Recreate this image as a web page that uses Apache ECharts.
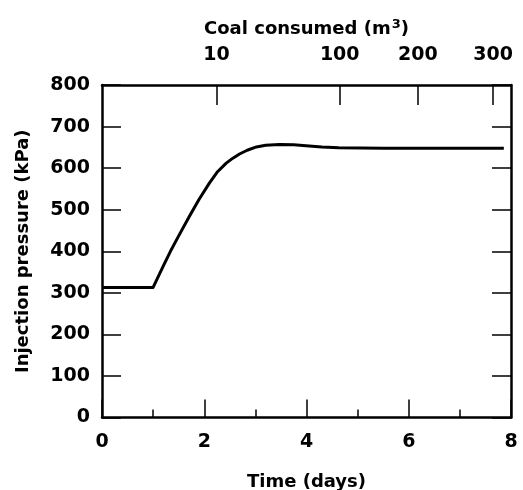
<!DOCTYPE html>
<html>
<head>
<meta charset="utf-8">
<script src="https://cdn.jsdelivr.net/npm/echarts@6/dist/echarts.min.js"></script>
<style>
html,body{margin:0;padding:0;background:#fff;}
#chart{width:523px;height:490px;}
</style>
</head>
<body>
<div id="chart"></div>
<script>
// Data
const timeDays = [0, 1.0, 1.2, 1.36, 1.5, 1.71, 1.9, 2.10, 2.25, 2.43, 2.56, 2.69, 2.84, 3.02, 3.2, 3.47, 3.75, 3.99, 4.3, 4.63, 5.5, 6.5, 7.86];
const pressureKPa = [313, 313, 365, 405, 437, 484, 525, 564, 590, 612, 624, 634, 643, 651, 655, 657, 656, 654, 651, 649, 648, 648, 648];
// Top axis (coal consumed) ticks, placed at time positions
const coalTickTimes = [2.24, 4.65, 6.18, 7.65];
const coalTickLabels = ['10', '100', '200', '300'];
const yTicks = [0, 100, 200, 300, 400, 500, 600, 700, 800];

const FONT = 'DejaVu Sans';
const chart = echarts.init(document.getElementById('chart'), null, {renderer: 'canvas'});

const lineStyleAxis = {color: '#000', width: 2.5};
const tickStyle = {color: '#000', width: 1.5};
const labelStyle = {fontFamily: FONT, fontWeight: 'bold', fontSize: 19, color: '#000'};
const nameStyle = {fontFamily: FONT, fontWeight: 'bold', fontSize: 18, color: '#000'};

chart.setOption({
  animation: false,
  backgroundColor: '#fff',
  grid: {left: 102, right: 12, top: 85, bottom: 72.5, containLabel: false, outerBoundsMode: 'none'},
  xAxis: [
    {
      type: 'value', position: 'bottom', min: 0, max: 8, interval: 2,
      name: 'Time (days)', nameLocation: 'middle', nameGap: 56, nameMoveOverlap: false,
      nameTextStyle: nameStyle,
      axisLine: {show: true, onZero: false, lineStyle: lineStyleAxis},
      axisTick: {show: true, inside: true, length: 18, lineStyle: tickStyle},
      minorTick: {show: true, splitNumber: 2, length: 8, lineStyle: tickStyle},
      axisLabel: Object.assign({margin: 15}, labelStyle),
      splitLine: {show: false}
    },
    {
      type: 'value', position: 'top', min: 0, max: 8,
      name: 'Coal consumed (m{sup|3})', nameLocation: 'middle', nameGap: 44, nameMoveOverlap: false,
      nameTextStyle: Object.assign({}, nameStyle, {
        rich: {sup: {fontFamily: FONT, fontWeight: 'bold', fontSize: 13, color: '#000', verticalAlign: 'bottom', padding: [0, 0, 10, 1]}}
      }),
      axisLine: {show: true, onZero: false, lineStyle: lineStyleAxis},
      axisTick: {show: true, inside: true, length: 20, customValues: coalTickTimes, lineStyle: tickStyle},
      axisLabel: Object.assign({
        show: true, customValues: coalTickTimes, margin: 20,
        formatter: function (v) {
          let best = 0, d = Infinity;
          coalTickTimes.forEach(function (t, i) { if (Math.abs(t - v) < d) { d = Math.abs(t - v); best = i; } });
          return coalTickLabels[best];
        }
      }, labelStyle),
      splitLine: {show: false}
    }
  ],
  yAxis: [
    {
      type: 'value', position: 'left', min: 0, max: 800, interval: 100,
      name: 'Injection pressure (kPa)', nameLocation: 'middle', nameGap: 70, nameMoveOverlap: false,
      nameTextStyle: nameStyle,
      axisLine: {show: true, onZero: false, lineStyle: lineStyleAxis},
      axisTick: {show: true, inside: true, length: 19, lineStyle: tickStyle},
      axisLabel: Object.assign({margin: 12,
        formatter: function (v) { return yTicks.indexOf(v) >= 0 ? String(v) : ''; }}, labelStyle),
      splitLine: {show: false}
    },
    {
      type: 'value', position: 'right', min: 0, max: 800, interval: 100,
      axisLine: {show: true, onZero: false, lineStyle: lineStyleAxis},
      axisTick: {show: true, inside: true, length: 19, lineStyle: tickStyle},
      axisLabel: {show: false},
      splitLine: {show: false}
    }
  ],
  series: [{
    type: 'line',
    xAxisIndex: 0, yAxisIndex: 0,
    data: timeDays.map(function (t, i) { return [t, pressureKPa[i]]; }),
    showSymbol: false,
    smooth: false,
    lineStyle: {color: '#000', width: 3, join: 'round'}
  }]
});
</script>
</body>
</html>
